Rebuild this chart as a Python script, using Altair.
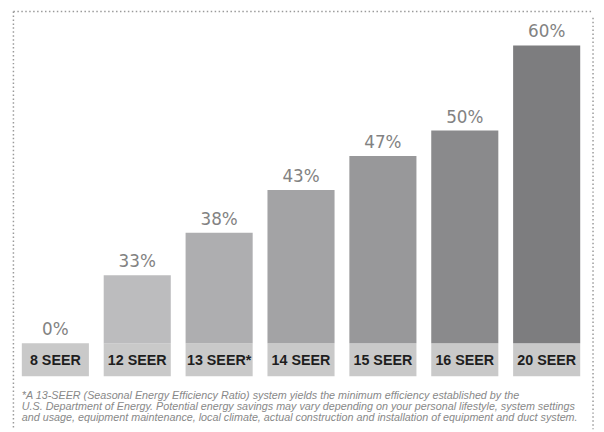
import altair as alt
import pandas as pd

# ---- data ----
categories = ["8 SEER", "12 SEER", "13 SEER*", "14 SEER", "15 SEER", "16 SEER", "20 SEER"]
savings = [0, 33, 38, 43, 47, 50, 60]
bar_colors = ["#bdbdbf", "#bcbcbe", "#aeaeb0", "#a3a3a5", "#98989a", "#8a8a8c", "#7d7d7f"]
footnote_lines = [
    "*A 13-SEER (Seasonal Energy Efficiency Ratio) system yields the minimum efficiency established by the",
    "U.S. Department of Energy. Potential energy savings may vary depending on your personal lifestyle, system settings",
    "and usage, equipment maintenance, local climate, actual construction and installation of equipment and duct system.",
]

df = pd.DataFrame({
    "cat": categories,
    "value": savings,
    "label": [f"{v}%" for v in savings],
    "color": bar_colors,
})
one = pd.DataFrame({"k": [0]})

x_enc = alt.X("cat:N", sort=categories, axis=None,
              scale=alt.Scale(range=[6.5, 587.5], paddingInner=0.1807, paddingOuter=0.0904))
y_scale = alt.Scale(domain=[25, 60], range=[337, 35], clamp=True)

base = alt.Chart(df)

bars = base.mark_bar().encode(
    x=x_enc,
    y=alt.Y("value:Q", scale=y_scale, axis=None),
    y2=alt.datum(25),
    color=alt.Color("color:N", scale=None),
)

label_boxes = base.mark_bar(color="#c9c9c9").encode(
    x=x_enc, y=alt.value(337), y2=alt.value(370.3)
)

cat_text = base.mark_text(
    font="Liberation Sans", fontWeight="bold", fontSize=14.5, color="#1e1e1e",
    baseline="alphabetic", align="center",
).encode(x=x_enc, y=alt.value(358.7), text="cat:N")

pct_text = base.mark_text(
    font="DejaVu Sans", fontSize=17, color="#828282",
    baseline="alphabetic", align="center", dy=-8,
).encode(x=x_enc, y=alt.Y("value:Q", scale=y_scale, axis=None), text="label:N")

footnote = alt.Chart(one).mark_text(
    text=footnote_lines, font="Liberation Sans", fontStyle="italic", fontSize=10.9,
    color="#888888", align="left", baseline="alphabetic", lineHeight=11.2,
).encode(x=alt.value(14), y=alt.value(393.5))

dot = dict(strokeDash=[1.5, 2.5], strokeWidth=1.5, color="#9a9a9a")
top_rule = alt.Chart(one).mark_rule(**dot).encode(
    x=alt.value(5.5), x2=alt.value(593.5), y=alt.value(0.75))
left_rule = alt.Chart(one).mark_rule(**dot).encode(
    x=alt.value(5.5), y=alt.value(0.75), y2=alt.value(424))
right_rule = alt.Chart(one).mark_rule(**dot).encode(
    x=alt.value(593), y=alt.value(7), y2=alt.value(424))

chart = alt.layer(
    label_boxes, bars, cat_text, pct_text, footnote, top_rule, left_rule, right_rule
).properties(
    width=596, height=424, padding=0,
    autosize=alt.AutoSizeParams(type="none"),
    background="white",
).configure_view(stroke=None)

chart.save("out.html", embed_options={"renderer": "svg", "actions": False})
